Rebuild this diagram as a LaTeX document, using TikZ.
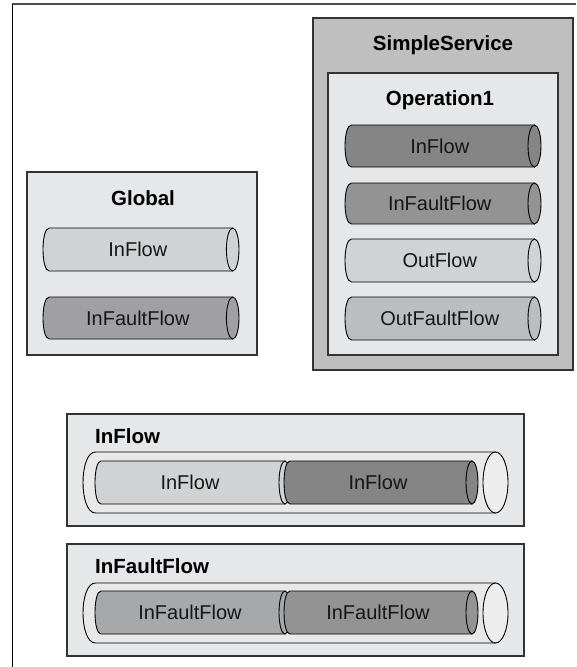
\documentclass[tikz,border=0pt]{standalone}
\usepackage{fontspec}
\setmainfont{Liberation Sans}
\definecolor{svcbg}{HTML}{BFBFBF}
\definecolor{boxbg}{HTML}{E6E7E8}
\definecolor{boxline}{HTML}{333333}
\definecolor{cLight}{HTML}{D1D2D3}
\definecolor{cDark}{HTML}{858585}
\definecolor{cMid}{HTML}{939393}
\definecolor{cGlobFault}{HTML}{A0A0A2}
\definecolor{cOutFault}{HTML}{BCBDBF}
\definecolor{cBotFault}{HTML}{A7A8AA}
\definecolor{tubeBody}{HTML}{E8E8E9}
\definecolor{tubeEnd}{HTML}{EDEDEE}
\definecolor{txt}{HTML}{161616}
\tikzset{
  boxstyle/.style={draw=boxline, line width=1.2pt},
  tubeline/.style={draw=black, line width=0.9pt},
  tubetext/.style={inner sep=0pt, text=txt, font=\fontsize{20}{23}\selectfont},
  titletext/.style={inner sep=0pt, font=\fontsize{20.5}{24}\selectfont\bfseries},
}
% #1 name, #2 x left, #3 x right, #4 y top, #5 y bottom, #6 end x radius,
% #7 body fill, #8 end fill, #9 text
\newcommand{\tubeshape}[9]{%
  \pgfmathsetmacro\tbL{#2+#6}%
  \pgfmathsetmacro\tbR{#3-#6}%
  \pgfmathsetmacro\tbK{#2-0.3333*#6}%
  \pgfmathsetmacro\tbC{(#4+#5)/2}%
  \pgfmathsetmacro\tbRy{(#5-#4)/2}%
  \pgfmathsetmacro\tbM{(#2+\tbR)/2}%
  \filldraw[tubeline, fill=#7] (\tbL,#4) -- (\tbR,#4) -- (\tbR,#5) -- (\tbL,#5)
     .. controls (\tbK,#5) and (\tbK,#4) .. (\tbL,#4) -- cycle;
  \filldraw[tubeline, fill=#8] (\tbR,\tbC) ellipse [x radius=#6, y radius=\tbRy];
  \node[tubetext] (#1) at (\tbM,\tbC) {#9};
}
\begin{document}
\begin{tikzpicture}[x=1pt,y=-1pt]
\useasboundingbox (0,0) rectangle (576,667);
% outer frame
\draw[draw=black!70, line width=1.6pt] (12,4) -- (576,4);
\draw[draw=black, line width=1pt] (12,4) -- (12,667);

% SimpleService
\filldraw[boxstyle, fill=svcbg] (313,18) rectangle (573,370);
\node[titletext] (svc) at (443,45) {SimpleService};
\filldraw[boxstyle, fill=boxbg] (328,73) rectangle (558,355);
\node[titletext] (op1) at (440,100) {Operation1};
\tubeshape{opIn}{345}{541}{125}{167}{6.5}{cDark}{cDark}{InFlow}
\tubeshape{opInFault}{345}{541}{183}{224}{6.5}{cMid}{cMid}{InFaultFlow}
\tubeshape{opOut}{345}{541}{239}{282}{6.5}{cLight}{cLight}{OutFlow}
\tubeshape{opOutFault}{345}{541}{297}{340}{6.5}{cOutFault}{cOutFault}{OutFaultFlow}

% Global
\filldraw[boxstyle, fill=boxbg] (27,172) rectangle (257,355);
\node[titletext] (glob) at (143,198) {Global};
\tubeshape{gIn}{43}{239}{228}{271}{6.3}{cLight}{cLight}{InFlow}
\tubeshape{gInFault}{43}{239}{297}{339}{6.3}{cGlobFault}{cGlobFault}{InFaultFlow}

% InFlow chain
\filldraw[boxstyle, fill=boxbg] (67,414) rectangle (524,526);
\node[titletext, anchor=west] (inT) at (95,436) {InFlow};
\tubeshape{inTube}{83}{508}{452}{513}{12.5}{tubeBody}{tubeEnd}{}
\tubeshape{inA}{95}{291}{461}{504}{6}{cLight}{cLight}{InFlow}
\tubeshape{inB}{284}{478}{461}{504}{6}{cDark}{cDark}{InFlow}

% InFaultFlow chain
\filldraw[boxstyle, fill=boxbg] (67,544) rectangle (524,656);
\node[titletext, anchor=west] (faT) at (95,566) {InFaultFlow};
\tubeshape{faTube}{83}{508}{583}{643}{12.5}{tubeBody}{tubeEnd}{}
\tubeshape{faA}{95}{291}{591}{634}{6}{cBotFault}{cBotFault}{InFaultFlow}
\tubeshape{faB}{284}{478}{591}{634}{6}{cMid}{cMid}{InFaultFlow}
\end{tikzpicture}
\end{document}
